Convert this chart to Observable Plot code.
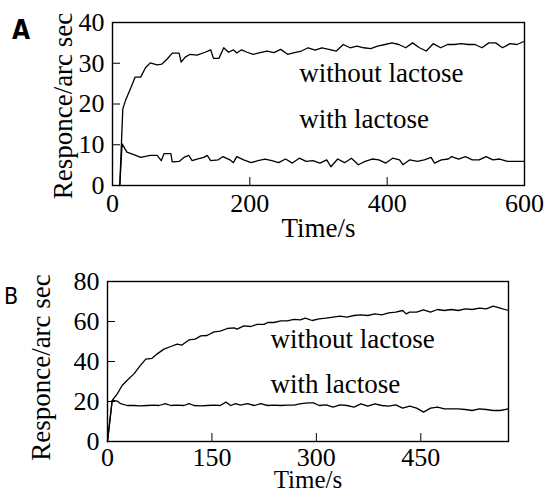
<!DOCTYPE html>
<html><head><meta charset="utf-8">
<script src="https://cdn.jsdelivr.net/npm/d3@7"></script>
<script src="https://cdn.jsdelivr.net/npm/@observablehq/plot@0.6"></script>
<style>
body{margin:0;background:#fff;}
#wrap{position:relative;width:545px;height:493px;overflow:hidden;background:#fff;}
.panel{position:absolute;left:0;}
.tag{position:absolute;font-family:"DejaVu Sans Condensed","Liberation Sans Narrow",sans-serif;color:#000;line-height:1;}
</style></head><body>
<div id="wrap">
<div class="panel" id="pA" style="top:0"></div>
<div class="panel" id="pB" style="top:244px"></div>
<div class="tag" style="left:12px;top:17px;font-size:26px;font-weight:bold;">A</div>
<div class="tag" style="left:4px;top:285px;font-size:23px;">B</div>
</div>
<script>
// Panel A data
const timeA_without = [10.6, 15, 19, 26, 33, 41, 48, 55, 65, 72, 80, 87, 97, 100, 106, 113, 123, 135, 143, 147, 155, 162, 169, 176, 181, 188, 196, 205, 215, 225, 235, 245, 255, 265, 275, 285, 295, 305, 315, 326, 336, 346, 356, 366, 376, 386, 397, 407, 417, 427, 437, 447, 457, 467, 478, 488, 498, 508, 518, 528, 538, 548, 558, 568, 579, 589, 600];
const respA_without = [0, 18.8, 20.9, 23.7, 26.6, 26.6, 28.9, 30.1, 29.6, 29.8, 31.1, 32.5, 32.5, 30.3, 31.5, 32.2, 32, 32.7, 33.3, 31.2, 31.2, 33.8, 32.7, 33.3, 32.5, 33.3, 32.7, 32.2, 32.6, 33, 32.6, 33.4, 32.2, 32.6, 33, 33.8, 33.2, 33.8, 33.4, 33, 34.6, 33.8, 34.2, 33.8, 33.6, 34.2, 34.6, 35, 34.6, 33.8, 35, 33.8, 33, 34.8, 33.8, 34.6, 34.6, 34.8, 34.6, 34.6, 33.8, 35, 35, 33.8, 34.8, 34.6, 35.4];
const timeA_with = [10.6, 14, 21, 31, 41, 55, 65, 71, 75, 85, 87, 97, 104, 111, 116, 123, 133, 138, 143, 154, 161, 171, 176, 181, 191, 202, 212, 222, 232, 242, 252, 262, 272, 282, 292, 302, 312, 318, 328, 338, 348, 358, 368, 378, 388, 398, 408, 418, 423, 433, 444, 454, 464, 469, 479, 489, 494, 504, 514, 524, 534, 544, 554, 564, 575, 585, 600];
const respA_with = [0, 10.2, 8.2, 7.6, 6.9, 7.4, 7.4, 6.1, 7.8, 7.8, 5.8, 5.9, 6.9, 7.4, 6.1, 6.5, 6.9, 7.4, 6.1, 6.3, 7.1, 6.3, 5.6, 7.1, 6.3, 5.6, 6.1, 6.5, 6.1, 5.6, 6.5, 5.5, 6.7, 5.9, 6.1, 5.5, 6.3, 4.6, 6.5, 5.6, 6.7, 5.1, 5.9, 6.5, 6.3, 5.5, 6.7, 6.3, 5.1, 6.3, 5.9, 6.3, 6.9, 5.5, 6.3, 6.5, 7.1, 6.5, 7.1, 6.3, 6.3, 7.1, 6.3, 6.5, 5.9, 5.9, 5.9];
const xTicksA = [0, 200, 400, 600];
const yTicksA = [0, 10, 20, 30, 40];

// Panel B data
const timeB_without = [0, 6.7, 14, 21, 28, 38, 47, 55, 64, 71, 81, 91, 100, 107, 117, 126, 134, 143, 153, 162, 172, 182, 186, 196, 206, 215, 225, 230, 239, 249, 258, 268, 277, 284, 294, 304, 314, 324, 334, 344, 354, 364, 374, 384, 394, 404, 414, 424, 429, 434, 444, 454, 464, 474, 484, 494, 504, 514, 524, 534, 544, 554, 564, 576];
const respB_without = [0, 20.5, 23.8, 28, 30.5, 33.8, 37.9, 41.2, 41.6, 43.7, 46.2, 47.5, 48.7, 48.2, 50.8, 51.2, 52.8, 53, 54.8, 55.2, 56.5, 56.8, 56.2, 57.8, 57.5, 58.6, 58.6, 59.5, 59.5, 60.3, 60.3, 61.1, 60.8, 61.7, 60.5, 61.3, 61.7, 62.2, 62.7, 62.2, 63, 63.3, 63, 63.8, 63.3, 64.3, 64.7, 65.5, 63.8, 64.7, 64.7, 65.8, 64.7, 66, 65.5, 66, 65.5, 66.3, 66, 66.7, 66.3, 67.7, 66.7, 65.5];
const timeB_with = [0, 6.7, 14, 19, 28, 38, 47, 57, 67, 74, 83, 91, 100, 110, 117, 124, 134, 143, 153, 162, 170, 177, 184, 191, 201, 211, 220, 230, 239, 249, 258, 268, 278, 289, 296, 304, 314, 324, 334, 344, 354, 364, 374, 384, 394, 404, 414, 424, 434, 444, 454, 464, 474, 484, 494, 504, 514, 524, 534, 544, 554, 564, 576];
const respB_with = [0, 20.5, 20.2, 18.9, 18, 18, 17.8, 18, 18.2, 18, 18.9, 18, 18.2, 18, 18.9, 18, 17.8, 18, 18.2, 18, 19.7, 18, 18.9, 18.2, 18.9, 18, 18.9, 18, 18.2, 18, 18.2, 18.2, 18.9, 19.3, 19.3, 18, 18.3, 17.2, 18.3, 18, 17.2, 18.8, 17.7, 18.8, 18, 17.7, 18.3, 16.7, 17.7, 16.7, 14.7, 16.7, 17.2, 16.3, 16.3, 16.3, 16, 15.5, 16.3, 16, 15.5, 15.5, 16.3];
const xTicksB = [0, 150, 300, 450];
const yTicksB = [0, 20, 40, 60, 80];

const seriesNames = ["without lactose", "with lactose"];
const yLabel = "Responce/arc sec";
const xLabel = "Time/s";

function rows(t, v) { return t.map((d, i) => ({t: d, v: v[i]})); }

function panel(o) {
  return Plot.plot({
    width: 545,
    height: o.height,
    marginLeft: o.mL, marginRight: o.mR, marginTop: o.mT, marginBottom: o.mB,
    style: {fontFamily: "'Liberation Serif', 'Times New Roman', serif", fontSize: "27px", color: "#000", background: "transparent", overflow: "visible"},
    x: {domain: o.xDomain},
    y: {domain: o.yDomain},
    marks: [
      Plot.axisX({ticks: o.xTicks, tickSize: -8, tickPadding: o.xPad, tickFormat: d => String(d), label: null, stroke: "#000", fontSize: 26}),
      Plot.axisY({ticks: o.yTicks, tickSize: -8, tickPadding: 16, tickFormat: d => String(d), label: null, stroke: "#000", fontSize: 26}),
      Plot.text([xLabel], {frameAnchor: "bottom", text: d => d, dy: o.xLabelOffset, lineAnchor: "bottom", textAnchor: "middle", fill: "#000", fontSize: o.xLabelSize}),
      Plot.text([yLabel], {frameAnchor: "left", text: d => d, dx: -o.yLabelOffset, dy: o.yLabelShift, rotate: -90, lineAnchor: "top", textAnchor: "middle", fill: "#000"}),
      Plot.frame({stroke: "#000", strokeWidth: 1.4}),
      Plot.line(rows(o.tWithout, o.vWithout), {x: "t", y: "v", stroke: "#000", strokeWidth: 1.3}),
      Plot.line(rows(o.tWith, o.vWith), {x: "t", y: "v", stroke: "#000", strokeWidth: 1.3}),
      Plot.text([{t: o.labelX, v: o.labelY[0], s: seriesNames[0]}, {t: o.labelX, v: o.labelY[1], s: seriesNames[1]}],
        {x: "t", y: "v", text: "s", textAnchor: "start", lineAnchor: "bottom", fill: "#000"})
    ]
  });
}

document.getElementById("pA").append(panel({
  height: 244, mL: 112, mR: 21, mT: 22, mB: 59,
  xDomain: [0, 600], yDomain: [0, 40], xTicks: xTicksA, yTicks: yTicksA,
  tWithout: timeA_without, vWithout: respA_without, tWith: timeA_with, vWith: respA_with,
  labelX: 272, labelY: [25.3, 14.1], xPad: 16, xLabelSize: 27,
  xLabelOffset: 51, yLabelOffset: 60, yLabelShift: 2
}));

document.getElementById("pB").append(panel({
  height: 249, mL: 107, mR: 37, mT: 37, mB: 52,
  xDomain: [0, 576], yDomain: [0, 80], xTicks: xTicksB, yTicks: yTicksB,
  tWithout: timeB_without, vWithout: respB_without, tWith: timeB_with, vWith: respB_with,
  labelX: 234, labelY: [46.7, 24.3], xPad: 14, xLabelSize: 25,
  xLabelOffset: 46, yLabelOffset: 77, yLabelShift: 6
}));
</script>
</body></html>
